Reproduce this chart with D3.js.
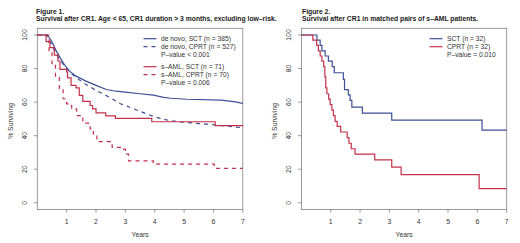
<!DOCTYPE html>
<html>
<head>
<meta charset="utf-8">
<script src="https://cdn.jsdelivr.net/npm/d3@7"></script>
<style>
  html, body { margin: 0; padding: 0; background: #fff; }
  svg { display: block; font-family: "Liberation Sans", Arial, sans-serif; }
</style>
</head>
<body>
<svg id="chart" width="520" height="243"></svg>
<script>
// --- Figure 1 data (years, % surviving) ---
const deNovoSCT = [[0,100],[0.35,100],[0.5,96],[0.63,91],[0.86,84],[1.0,80.5],[1.1,78.5],[1.2,77],[1.32,75.5],[1.66,72.5],[2.0,70],[2.35,67.5],[2.69,66.5],[3.0,66],[3.5,65],[3.96,64.2],[4.3,62.8],[4.54,62.3],[5.1,61.7],[6.25,61.2],[6.7,60.3],[7.0,59.3]];
const deNovoCPRT = [[0,100],[0.33,100],[0.5,94],[0.63,89],[0.8,84.5],[1.0,80],[1.2,76.5],[1.43,73.3],[1.66,70.5],[2.0,67],[2.23,65],[2.5,62.5],[2.83,59],[3.0,58],[3.5,54.5],[4.0,51.2],[4.5,49],[5.0,48],[6.0,46.5],[7.0,44.7]];
const sAmlSCT = [[0,100],[0.3,96],[0.43,92.5],[0.58,88],[0.7,84.5],[0.77,79.5],[1.0,78],[1.03,74.5],[1.15,70],[1.32,68.5],[1.43,64],[1.55,60.5],[1.8,58],[1.88,56],[2.0,53.6],[2.33,51.8],[2.66,50.3],[3.9,48.3],[6.06,46],[7,45.8]];
const sAmlCPRT = [[0,100],[0.28,100],[0.4,90],[0.5,83],[0.62,75],[0.75,68],[0.88,62],[1.0,59],[1.17,56],[1.34,52],[1.55,47.5],[1.8,44],[1.91,41],[2.03,36.5],[2.49,36],[2.55,33],[2.94,32],[3.0,29],[3.11,25],[3.9,25],[3.95,23],[6.0,23],[6.03,20.5],[7,20.5]];

// --- Figure 2 data ---
const pairSCT = [[0,100],[0.53,96.9],[0.64,93.8],[0.7,90.6],[0.81,87.5],[0.92,84.4],[1.05,81.2],[1.12,77.5],[1.43,73.5],[1.47,67.5],[1.6,64.3],[1.66,61],[1.72,57],[2.08,53.5],[3.08,49.3],[6.16,43.3],[7,43.3]];
const pairCPRT = [[0,100],[0.39,96.9],[0.52,93.8],[0.58,90.6],[0.64,87.5],[0.7,84.4],[0.76,81.2],[0.8,75],[0.83,68.5],[0.87,65],[0.93,61.8],[0.98,58.5],[1.04,55.2],[1.09,52],[1.15,48.5],[1.22,45.5],[1.34,42.2],[1.56,38.8],[1.62,35.5],[1.7,32.2],[1.83,29],[2.5,25.6],[3.08,21.2],[3.4,16.8],[6.06,8.5],[7,8.5]];

const xTicks = [1, 2, 3, 4, 5, 6, 7];
const yTicks = [0, 20, 40, 60, 80, 100];

const BLUE = "#3f4f95", RED = "#c3304b";

const legend1 = [
  { label: "de novo, SCT (n = 385)", color: BLUE, dash: null },
  { label: "de novo, CPRT (n = 527)", color: BLUE, dash: "4,4" },
  { label: "P–value < 0.001", color: null },
  { label: "s–AML, SCT (n = 71)", color: RED, dash: null },
  { label: "s–AML, CPRT (n = 70)", color: RED, dash: "4,4" },
  { label: "P–value = 0.006", color: null }
];
const legend2 = [
  { label: "SCT (n = 32)", color: BLUE, dash: null },
  { label: "CPRT (n = 32)", color: RED, dash: null },
  { label: "P–value = 0.010", color: null }
];

const svg = d3.select("#chart");

// scale a font size so a reference string gets the wanted width
function fitSize(str, base, weight, target) {
  const t = svg.append("text").attr("font-size", base).attr("font-weight", weight).text(str);
  const len = t.node().getComputedTextLength();
  t.remove();
  return base * target / len;
}

const titleSize = fitSize("Survival after CR1. Age < 65, CR1 duration > 3 months, excluding low–risk.", 6, "bold", 241);
const legendSize = fitSize("de novo, SCT (n = 385)", 6.5, "normal", 70);

function drawPanel(cfg) {
  const g = svg.append("g");
  const x = d3.scaleLinear().domain([0, 7]).range([cfg.left, cfg.right]);
  const y = d3.scaleLinear().domain([-4, 104]).range([209.5, 28.3]);

  // titles
  g.append("text").attr("x", cfg.titleX).attr("y", 14.3)
    .attr("font-size", titleSize).attr("font-weight", "bold").attr("fill", "#1a1a1a").text(cfg.fig);
  g.append("text").attr("x", cfg.titleX).attr("y", 20.6)
    .attr("font-size", titleSize).attr("font-weight", "bold").attr("fill", "#1a1a1a").text(cfg.title);

  // box
  g.append("rect").attr("x", x(0)).attr("y", y(104))
    .attr("width", x(7) - x(0)).attr("height", y(-4) - y(104))
    .attr("fill", "none").attr("stroke", "#808080").attr("stroke-width", 0.8);

  // x ticks
  g.selectAll("line.xt").data(xTicks).join("line")
    .attr("x1", d => x(d)).attr("x2", d => x(d))
    .attr("y1", y(-4)).attr("y2", y(-4) + 3.2)
    .attr("stroke", "#808080").attr("stroke-width", 0.8);
  g.selectAll("text.xl").data(xTicks).join("text")
    .attr("x", d => x(d)).attr("y", 224)
    .attr("text-anchor", "middle").attr("font-size", 6.8).attr("fill", "#333")
    .text(d => d);

  // y ticks
  g.selectAll("line.yt").data(yTicks).join("line")
    .attr("x1", x(0) - 3.5).attr("x2", x(0))
    .attr("y1", d => y(d)).attr("y2", d => y(d))
    .attr("stroke", "#808080").attr("stroke-width", 0.8);
  g.selectAll("text.yl").data(yTicks).join("text")
    .attr("transform", d => `translate(${x(0) - 10.3},${y(d)}) rotate(-90)`)
    .attr("text-anchor", "middle").attr("font-size", 6.8).attr("fill", "#333")
    .text(d => d);

  // axis titles
  g.append("text").attr("x", (x(0) + x(7)) / 2).attr("y", 236.5)
    .attr("text-anchor", "middle").attr("font-size", 6.8).attr("fill", "#333").text("Years");
  g.append("text")
    .attr("transform", `translate(${x(0) - 24},${(y(-4) + y(104)) / 2 + 2}) rotate(-90)`)
    .attr("text-anchor", "middle").attr("font-size", 6.8).attr("fill", "#333").text("% Surviving");

  // curves
  cfg.series.forEach(s => {
    const line = d3.line()
      .x(d => x(d[0])).y(d => y(d[1]))
      .curve(s.step ? d3.curveStepAfter : d3.curveLinear);
    g.append("path").datum(s.data)
      .attr("d", line)
      .attr("fill", "none").attr("stroke", s.color).attr("stroke-width", 1.2)
      .attr("stroke-dasharray", s.dash);
  });

  // legend
  const lg = g.append("g");
  cfg.legend.forEach((d, i) => {
    const yy = cfg.legY + i * 8 + (i >= 3 ? 4 : 0);
    if (d.color) {
      lg.append("line").attr("x1", cfg.legX).attr("x2", cfg.legX + 13)
        .attr("y1", yy).attr("y2", yy)
        .attr("stroke", d.color).attr("stroke-width", 1.2).attr("stroke-dasharray", d.dash);
    }
    lg.append("text").attr("x", cfg.legX + 17.5).attr("y", yy).attr("dy", "0.35em")
      .attr("font-size", legendSize).attr("fill", "#333").text(d.label);
  });
}

drawPanel({
  left: 37.3, right: 242.8, titleX: 36,
  fig: "Figure 1.",
  title: "Survival after CR1. Age < 65, CR1 duration > 3 months, excluding low–risk.",
  series: [
    { data: deNovoSCT, color: BLUE, dash: null, step: false },
    { data: deNovoCPRT, color: BLUE, dash: "4,4", step: false },
    { data: sAmlSCT, color: RED, dash: null, step: true },
    { data: sAmlCPRT, color: RED, dash: "4,4", step: true }
  ],
  legend: legend1, legX: 143.5, legY: 38.7
});

drawPanel({
  left: 301.4, right: 506.7, titleX: 302,
  fig: "Figure 2.",
  title: "Survival after CR1 in matched pairs of s–AML patients.",
  series: [
    { data: pairSCT, color: BLUE, dash: null, step: true },
    { data: pairCPRT, color: RED, dash: null, step: true }
  ],
  legend: legend2, legX: 429.5, legY: 38.7
});
</script>
</body>
</html>
